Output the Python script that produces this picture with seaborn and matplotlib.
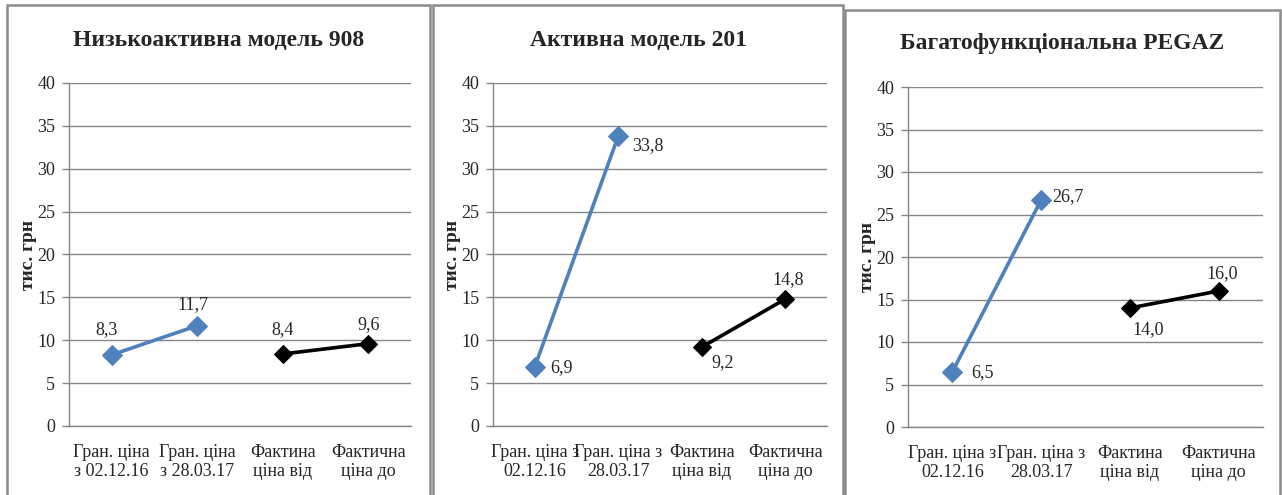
import matplotlib
matplotlib.use("Agg")
import matplotlib.pyplot as plt
from matplotlib.patches import Rectangle
import seaborn as sns
import pandas as pd

titles = ["Низькоактивна модель 908", "Активна модель 201", "Багатофункціональна PEGAZ"]
cats_1 = ["Гран. ціна\nз 02.12.16", "Гран. ціна\nз 28.03.17", "Фактина\nціна від", "Фактична\nціна до"]
cats_23 = ["Гран. ціна з\n02.12.16", "Гран. ціна з\n28.03.17", "Фактина\nціна від", "Фактична\nціна до"]
grant_908 = [8.3, 11.7]
fact_908 = [8.4, 9.6]
grant_201 = [6.9, 33.8]
fact_201 = [9.2, 14.8]
grant_pegaz = [6.5, 26.7]
fact_pegaz = [14.0, 16.0]
yticks = [0, 5, 10, 15, 20, 25, 30, 35, 40]

sns.set_theme(style="white")
plt.rcParams['font.family'] = ['Liberation Serif', 'DejaVu Serif']

W, H = 1282, 495
fig = plt.figure(figsize=(W / 100, H / 100), dpi=100)
fig.patch.set_facecolor("white")

def px_axes(l, r, t, b):
    return fig.add_axes([l / W, 1 - b / H, (r - l) / W, (b - t) / H])

boxes = [(7, 430, 5), (433, 843, 5), (845, 1280, 10)]
for (l, r, t) in boxes:
    fig.patches.append(Rectangle((l / W, -0.1), (r - l) / W, (1 - t / H) + 0.1,
                                 transform=fig.transFigure, fill=False,
                                 edgecolor="#8c8c8c", linewidth=1.8, zorder=0))

axes_px = [(69, 411, 83, 426), (493, 827, 83, 426), (908, 1263, 87, 427)]
panels = [
    (titles[0], cats_1, grant_908, fact_908,
     [(-5, 25), (-4, 21)], [(0, 24), (0, 19)]),
    (titles[1], cats_23, grant_201, fact_201,
     [(27, -1), (30, -9)], [(21, -15), (3, 19)]),
    (titles[2], cats_23, grant_pegaz, fact_pegaz,
     [(30, -1), (27, 3)], [(18, -22), (4, 17)]),
]

blue = "#4F81BD"
grid_c = "#868686"
fs = 13

for i, (title, cats, g, f, goff, foff) in enumerate(panels):
    ax = px_axes(*axes_px[i])
    df_g = pd.DataFrame({"x": [0, 1], "y": g})
    df_f = pd.DataFrame({"x": [2, 3], "y": f})
    sns.lineplot(data=df_g, x="x", y="y", ax=ax, color=blue, linewidth=2.6,
                 marker="D", markersize=10, markeredgecolor=blue, zorder=3)
    sns.lineplot(data=df_f, x="x", y="y", ax=ax, color="black", linewidth=2.6,
                 marker="D", markersize=9, markeredgecolor="black", zorder=3)
    for xv, yv, off in zip([0, 1], g, goff):
        ax.annotate(f"{yv:.1f}".replace(".", ","), (xv, yv), xytext=off,
                    textcoords="offset pixels", ha="center", va="center",
                    fontsize=fs, zorder=4)
    for xv, yv, off in zip([2, 3], f, foff):
        ax.annotate(f"{yv:.1f}".replace(".", ","), (xv, yv), xytext=off,
                    textcoords="offset pixels", ha="center", va="center",
                    fontsize=fs, zorder=4)
    ax.set_xlim(-0.5, 3.5)
    ax.set_ylim(0, 40)
    ax.set_yticks(yticks)
    ax.set_yticklabels([str(v) for v in yticks], fontsize=fs)
    ax.yaxis.grid(True, color=grid_c, linewidth=1)
    ax.set_axisbelow(True)
    ax.set_xticks([0, 1, 2, 3])
    ax.set_xticklabels(cats, fontsize=fs, linespacing=1.15)
    ax.set_xticks([-0.5, 0.5, 1.5, 2.5, 3.5], minor=True)
    ax.tick_params(axis="x", which="major", length=0, pad=13)
    ax.tick_params(axis="x", which="minor", length=5, color=grid_c, width=1, direction="out")
    ax.tick_params(axis="y", length=5, color=grid_c, width=1, direction="out", pad=5,
                   left=True)
    for s in ["top", "right"]:
        ax.spines[s].set_visible(False)
    for s in ["left", "bottom"]:
        ax.spines[s].set_color(grid_c)
        ax.spines[s].set_linewidth(1)
    ax.set_xlabel("")
    ax.set_ylabel("тис. грн", fontsize=14, fontweight="bold", labelpad=0)
    l, r, t = boxes[i]
    fig.text(((l + r) / 2) / W, 1 - (40 if i < 2 else 44) / H, title,
             ha="center", va="center", fontsize=17, fontweight="bold")

fig.savefig("out.png", dpi=100)
